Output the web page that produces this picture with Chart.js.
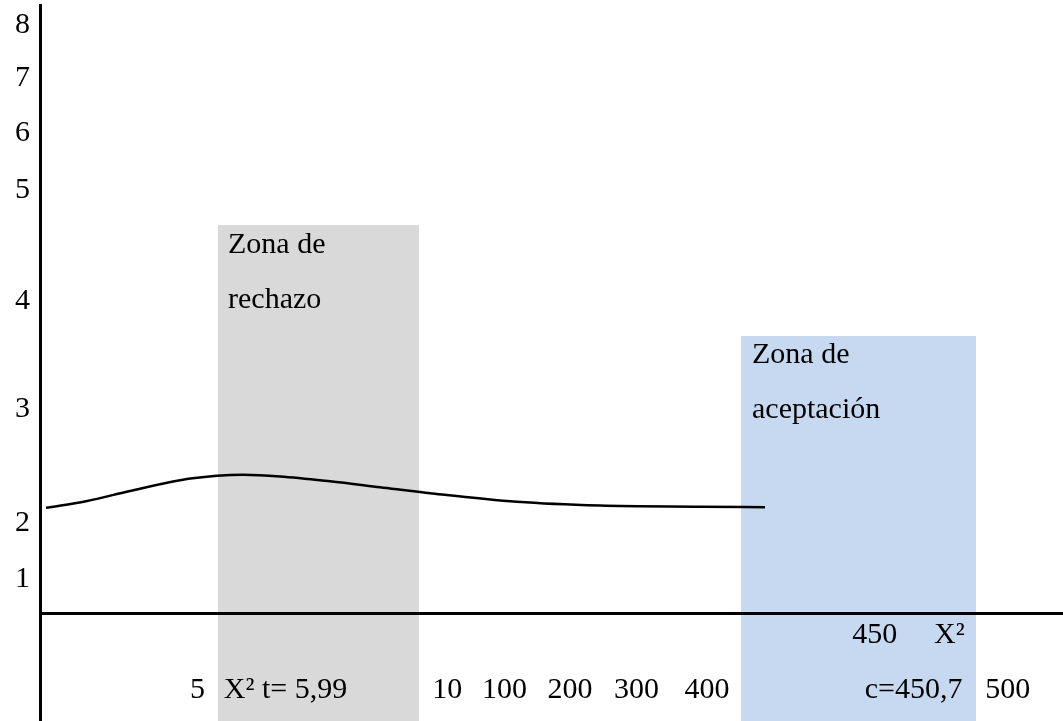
<!DOCTYPE html>
<html>
<head>
<meta charset="utf-8">
<script src="https://cdn.jsdelivr.net/npm/chart.js@4"></script>
<style>
  html, body { margin: 0; padding: 0; background: #fff; }
  #wrap { width: 1063px; height: 721px; }
</style>
</head>
<body>
<div id="wrap"><canvas id="chart"></canvas></div>
<script>
// axis ticks (positions are in plot units, labels as printed)
const yTickPos = [0.63, 1.67, 3.78, 5.78, 7.83, 8.89, 9.91, 10.89];
const yTickLabels = ['1', '2', '3', '4', '5', '6', '7', '8'];
const xLowerPos = [15.4, 24.0, 39.8, 45.4, 51.8, 58.3, 65.2, 85.4, 94.6];
const xLowerLabels = ['5', 'X\u00b2 t= 5,99', '10', '100', '200', '300', '400', 'c=450,7', '500'];
const xUpperPos = [81.6, 88.9];
const xUpperLabels = ['450', 'X\u00b2'];

// the curve
const curveX = [0.59, 4.5, 8.80, 13.69, 17.30, 19.84, 23.46, 28.35, 33.24, 38.12, 46.63, 54.74, 64.52, 70.87];
const curveY = [1.95, 2.07, 2.26, 2.46, 2.54, 2.56, 2.53, 2.44, 2.33, 2.22, 2.06, 1.99, 1.97, 1.96];

// zones
const zoneNames = [['Zona de', 'rechazo'], ['Zona de', 'aceptaci\u00f3n']];
const zoneFrom = [17.4, 68.5];
const zoneTo = [37.05, 91.5];
const zoneTop = [7.185, 5.13];
const zoneColors = ['#d9d9d9', '#c6d9f0'];
const zoneTextAt = [
    { x: 18.38, y: [6.815, 5.796] },
    { x: 69.6, y: [4.778, 3.759] }
];

const FONT = { family: "'Liberation Serif', 'Times New Roman', serif", size: 30 };

const zoneSets = zoneNames.map((name, i) => ({
    label: name.join(' '),
    data: [{ x: zoneFrom[i], y: zoneTop[i] }, { x: zoneTo[i], y: zoneTop[i] }],
    fill: 'start',
    backgroundColor: zoneColors[i],
    borderWidth: 0,
    pointRadius: 0,
    tension: 0,
    order: i + 1
}));

const zoneText = {
    id: 'zoneText',
    afterDatasetsDraw(chart) {
        const { ctx, scales } = chart;
        ctx.save();
        ctx.font = FONT.size + 'px ' + FONT.family;
        ctx.fillStyle = '#000';
        ctx.textAlign = 'left';
        ctx.textBaseline = 'middle';
        zoneNames.forEach((lines, i) => {
            lines.forEach((t, j) => {
                ctx.fillText(t, scales.x.getPixelForValue(zoneTextAt[i].x),
                    scales.y.getPixelForValue(zoneTextAt[i].y[j]));
            });
        });
        ctx.restore();
    }
};

// no extra room for labels, the plot fills the page
const noPad = s => { s.paddingLeft = s.paddingRight = s.paddingTop = s.paddingBottom = 0; };

new Chart(document.getElementById('chart'), {
    type: 'line',
    data: {
        datasets: [{
            label: 'curva',
            data: curveX.map((x, i) => ({ x: x, y: curveY[i] })),
            borderColor: '#000',
            borderWidth: 2.5,
            pointRadius: 0,
            fill: false,
            cubicInterpolationMode: 'monotone',
            order: 0
        }].concat(zoneSets)
    },
    options: {
        responsive: true,
        maintainAspectRatio: false,
        animation: false,
        layout: { padding: { top: 5, left: 0, right: 0, bottom: 0 } },
        plugins: { legend: { display: false }, tooltip: { enabled: false } },
        scales: {
            x: {
                type: 'linear',
                min: 0,
                max: 100,
                position: { y: 0 },
                grid: { display: false, drawTicks: false },
                border: { display: true, color: '#000', width: 3, z: 1 },
                afterBuildTicks: s => { s.ticks = xLowerPos.map(v => ({ value: v })); },
                afterFit: noPad,
                ticks: {
                    autoSkip: false, maxRotation: 0, minRotation: 0, z: 1,
                    padding: 59, color: '#000', font: FONT,
                    callback: (v, i) => xLowerLabels[i]
                }
            },
            x2: {
                type: 'linear',
                axis: 'x',
                min: 0,
                max: 100,
                position: { y: 0 },
                grid: { display: false, drawTicks: false },
                border: { display: false },
                afterBuildTicks: s => { s.ticks = xUpperPos.map(v => ({ value: v })); },
                afterFit: noPad,
                ticks: {
                    autoSkip: false, maxRotation: 0, minRotation: 0, z: 1,
                    padding: 4, color: '#000', font: FONT,
                    callback: (v, i) => xUpperLabels[i]
                }
            },
            y: {
                type: 'linear',
                min: -2,
                max: 11.26,
                grid: { display: false, drawTicks: false },
                border: { display: true, color: '#000', width: 3, z: 1 },
                afterBuildTicks: s => { s.ticks = yTickPos.map(v => ({ value: v })); },
                afterFit: s => { s.width = 40; noPad(s); },
                ticks: {
                    autoSkip: false, padding: 10, color: '#000', font: FONT, z: 1,
                    callback: (v, i) => yTickLabels[i]
                }
            }
        }
    },
    plugins: [zoneText]
});
</script>
</body>
</html>
